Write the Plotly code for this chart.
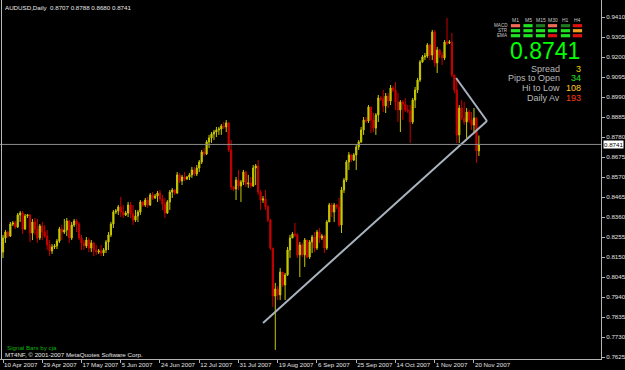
import plotly.graph_objects as go
import pandas as pd

symbol = "AUDUSD,Daily"

# Daily OHLC in pips (price * 10000), 10 Apr 2007 .. 22 Nov 2007 (Sun-Fri bars)
opens = [8176, 8250, 8281, 8260, 8323, 8329, 8308, 8371, 8381, 8297,
         8365, 8371, 8276, 8334, 8297, 8250, 8313, 8281, 8260, 8213,
         8182, 8203, 8208, 8234, 8297, 8281, 8292, 8339, 8250, 8318,
         8339, 8323, 8250, 8224, 8208, 8239, 8197, 8224, 8187, 8176,
         8182, 8171, 8187, 8229, 8266, 8323, 8386, 8392, 8413, 8386,
         8371, 8381, 8423, 8376, 8344, 8365, 8386, 8439, 8423, 8449,
         8423, 8476, 8460, 8470, 8486, 8455, 8428, 8381, 8439, 8491,
         8502, 8486, 8581, 8549, 8570, 8560, 8570, 8581, 8607, 8586,
         8617, 8649, 8701, 8691, 8754, 8775, 8796, 8806, 8817, 8822,
         8838, 8833, 8854, 8712, 8518, 8507, 8554, 8523, 8544, 8596,
         8533, 8539, 8523, 8617, 8628, 8491, 8449, 8455, 8413, 8344,
         8197, 7945, 7982, 7951, 8071, 8003, 8056, 8187, 8250, 8271,
         8266, 8161, 8213, 8161, 8239, 8150, 8229, 8255, 8197, 8281,
         8250, 8260, 8197, 8334, 8423, 8386, 8423, 8413, 8318, 8502,
         8554, 8649, 8686, 8659, 8686, 8728, 8754, 8817, 8869, 8864,
         8938, 8869, 8827, 8896, 8985, 8980, 8943, 8995, 8969, 9037,
         9027, 8964, 8922, 8964, 8953, 8922, 8917, 8859, 8974, 9027,
         9079, 9174, 9200, 9205, 9263, 9210, 9331, 9169, 9237, 9210,
         9195, 9279, 9273, 9279, 9106, 9027, 8791, 8932, 8880, 8859,
         8911, 8869, 8843, 8880, 8707]
highs = [8266, 8292, 8287, 8334, 8339, 8339, 8381, 8392, 8392, 8376,
         8376, 8376, 8350, 8355, 8350, 8323, 8334, 8318, 8292, 8239,
         8218, 8218, 8245, 8308, 8318, 8350, 8355, 8344, 8334, 8350,
         8350, 8334, 8266, 8239, 8255, 8250, 8239, 8229, 8213, 8192,
         8213, 8197, 8239, 8281, 8334, 8397, 8402, 8423, 8465, 8423,
         8392, 8439, 8439, 8423, 8397, 8397, 8449, 8444, 8460, 8465,
         8486, 8491, 8481, 8497, 8502, 8476, 8460, 8449, 8502, 8512,
         8507, 8596, 8591, 8581, 8596, 8575, 8591, 8623, 8623, 8633,
         8659, 8712, 8722, 8764, 8791, 8806, 8817, 8833, 8833, 8848,
         8859, 8869, 8859, 8764, 8523, 8570, 8607, 8554, 8607, 8602,
         8581, 8570, 8633, 8638, 8659, 8502, 8470, 8502, 8423, 8350,
         8197, 8014, 7998, 8092, 8071, 8066, 8203, 8266, 8281, 8329,
         8276, 8229, 8224, 8250, 8239, 8239, 8266, 8281, 8292, 8302,
         8271, 8266, 8344, 8434, 8434, 8434, 8428, 8460, 8518, 8565,
         8659, 8701, 8691, 8696, 8738, 8764, 8833, 8885, 8885, 8948,
         8938, 8906, 8906, 9001, 8995, 9027, 9011, 9011, 9053, 9048,
         9069, 9011, 8974, 8974, 8985, 8948, 8948, 8985, 9043, 9090,
         9184, 9210, 9221, 9273, 9268, 9342, 9342, 9253, 9242, 9226,
         9289, 9405, 9289, 9326, 9106, 9090, 8948, 8974, 8964, 8932,
         8922, 8911, 8932, 8885, 8788]
lows = [8145, 8224, 8250, 8255, 8313, 8297, 8302, 8334, 8271, 8292,
        8355, 8229, 8239, 8266, 8224, 8239, 8239, 8250, 8187, 8155,
        8166, 8192, 8192, 8224, 8239, 8271, 8260, 8224, 8239, 8308,
        8281, 8239, 8187, 8187, 8197, 8176, 8176, 8155, 8161, 8166,
        8155, 8155, 8171, 8187, 8255, 8302, 8376, 8371, 8360, 8355,
        8365, 8360, 8355, 8318, 8334, 8334, 8371, 8413, 8413, 8407,
        8418, 8449, 8455, 8439, 8444, 8397, 8355, 8376, 8397, 8460,
        8476, 8481, 8539, 8528, 8549, 8554, 8554, 8565, 8575, 8575,
        8596, 8638, 8680, 8686, 8722, 8749, 8764, 8780, 8791, 8791,
        8822, 8806, 8701, 8502, 8497, 8449, 8502, 8439, 8528, 8518,
        8512, 8512, 8518, 8528, 8476, 8397, 8434, 8397, 8334, 8187,
        7888, 7662, 7924, 7924, 7993, 7924, 8050, 8145, 8250, 8255,
        8145, 8045, 8150, 8098, 8145, 8140, 8171, 8176, 8187, 8224,
        8239, 8171, 8187, 8334, 8360, 8334, 8402, 8308, 8276, 8486,
        8544, 8607, 8649, 8654, 8607, 8712, 8749, 8791, 8854, 8854,
        8801, 8806, 8791, 8859, 8969, 8911, 8906, 8932, 8948, 9016,
        8922, 8859, 8806, 8869, 8911, 8906, 8749, 8848, 8932, 9011,
        9069, 9169, 9184, 9195, 9184, 9184, 9148, 9116, 9195, 9158,
        9184, 9263, 9268, 9095, 9011, 8749, 8749, 8869, 8843, 8775,
        8854, 8817, 8801, 8644, 8680]
closes = [8250, 8281, 8260, 8323, 8329, 8308, 8371, 8381, 8297, 8365,
          8371, 8276, 8334, 8297, 8250, 8313, 8281, 8260, 8213, 8182,
          8203, 8208, 8234, 8297, 8281, 8292, 8339, 8250, 8318, 8339,
          8323, 8250, 8224, 8208, 8239, 8197, 8224, 8187, 8176, 8182,
          8171, 8187, 8229, 8266, 8323, 8386, 8392, 8413, 8386, 8371,
          8381, 8423, 8376, 8344, 8365, 8386, 8439, 8423, 8449, 8423,
          8476, 8460, 8470, 8486, 8455, 8428, 8381, 8439, 8491, 8502,
          8486, 8581, 8549, 8570, 8560, 8570, 8581, 8607, 8586, 8617,
          8649, 8701, 8691, 8754, 8775, 8796, 8806, 8817, 8822, 8838,
          8833, 8854, 8712, 8518, 8507, 8554, 8523, 8544, 8596, 8533,
          8539, 8523, 8617, 8628, 8491, 8449, 8455, 8413, 8344, 8197,
          7945, 7982, 7951, 8071, 8003, 8056, 8187, 8250, 8271, 8266,
          8161, 8213, 8161, 8239, 8150, 8229, 8255, 8197, 8281, 8250,
          8260, 8197, 8334, 8423, 8386, 8423, 8413, 8318, 8502, 8554,
          8649, 8686, 8659, 8686, 8728, 8754, 8817, 8869, 8864, 8938,
          8869, 8827, 8896, 8985, 8980, 8943, 8995, 8969, 9037, 9027,
          8964, 8922, 8964, 8953, 8922, 8917, 8859, 8974, 9027, 9079,
          9174, 9200, 9205, 9263, 9210, 9331, 9169, 9237, 9210, 9195,
          9279, 9273, 9279, 9106, 9027, 8791, 8932, 8880, 8859, 8911,
          8869, 8843, 8880, 8707, 8741]

price_ticks = [0.7625, 0.7730, 0.7835, 0.7940, 0.8045, 0.8150, 0.8255, 0.8360, 0.8465,
               0.8570, 0.8675, 0.8780, 0.8885, 0.8990, 0.9095, 0.9200, 0.9305, 0.9410]
label_every = 16  # bars between date labels

# trendlines (bar index, price)
trend_up_x = [106.0, 197.3]
trend_up_y = [0.7804, 0.8864]
trend_dn_x = [184.7, 197.3]
trend_dn_y = [0.9090, 0.8864]

# signal panel
tf_labels = ["M1", "M5", "M15", "M30", "H1", "H4"]
sig_rows = ["MACD", "STR", "EMA"]
sig_colors = [["#f06a55", "#22e022", "#1f7a1f", "#f06a55", "#1f7a1f", "#e01010"],
              ["#22e022", "#22e022", "#22e022", "#22e022", "#22e022", "#f0a020"],
              ["#22e022", "#22e022", "#22e022", "#e01010", "#22e022", "#e01010"]]
stat_labels = ["Spread", "Pips to Open", "Hi to Low", "Daily Av"]
stat_values = ["3", "34", "108", "193"]
stat_colors = ["#f0d000", "#22e022", "#ffcc22", "#ff3a10"]

O = [v / 10000 for v in opens]
H = [v / 10000 for v in highs]
L = [v / 10000 for v in lows]
C = [v / 10000 for v in closes]
n = len(C)
dates = pd.bdate_range("2007-04-10", periods=n, freq="C", weekmask="Sun Mon Tue Wed Thu Fri")
idx = list(range(n))
tick_idx = idx[::label_every]
tick_txt = [f"{dates[i].day} {dates[i].strftime('%b %Y')}" for i in tick_idx]

W, HGT = 625, 370
PX_W = 601   # plot width in px
PX_H = 359   # plot height in px
def px(x):
    return x / PX_W
def py(y):
    return (PX_H - y) / PX_H

FONT = "Liberation Sans, Arial, sans-serif"
fig = go.Figure()
fig.add_trace(go.Candlestick(
    x=idx, open=O, high=H, low=L, close=C,
    increasing=dict(line=dict(color="#c8c800", width=1), fillcolor="#c8c800"),
    decreasing=dict(line=dict(color="#c80000", width=1), fillcolor="#c80000"),
    whiskerwidth=0, hoverinfo="skip", showlegend=False))
for tx, ty in [(trend_up_x, trend_up_y), (trend_dn_x, trend_dn_y)]:
    fig.add_trace(go.Scatter(x=tx, y=ty, mode="lines", line=dict(color="#a9b3bf", width=2),
                             hoverinfo="skip", showlegend=False))

last = C[-1]
fig.add_shape(type="line", xref="paper", x0=0, x1=1, yref="y", y0=last, y1=last,
              line=dict(color="#8c8c8c", width=1))
fig.add_shape(type="line", xref="paper", x0=px(1.5), x1=px(1.5), yref="paper", y0=0, y1=1,
              line=dict(color="#b8b8b8", width=1))

ann = []
def text(x, y, s, size, color, anchor="left", **kw):
    ann.append(dict(xref="paper", yref="paper", x=px(x), y=py(y), text=s, showarrow=False,
                    xanchor=anchor, yanchor="middle", font=dict(family=FONT, size=size, color=color), **kw))

text(3, 7, f"{symbol}  {O[-1]:.4f} {H[-1]:.4f} {L[-1]:.4f} {C[-1]:.4f}", 6.2, "#e8e8e8")
text(5, 347, "Signal Bars by cja", 6.2, "#10b010")
text(3, 354, "MT4NF, © 2001-2007 MetaQuotes Software Corp.", 6.2, "#e8e8e8")

col_x = [515.5, 528, 540.5, 552.5, 565.5, 577.5]
row_y = [25.7, 30.7, 35.7]
for j, lab in enumerate(tf_labels):
    text(col_x[j], 20, lab, 5, "#c8c8c8", anchor="center")
for r, lab in enumerate(sig_rows):
    text(510, row_y[r], lab, 4.6, "#c8c8c8", anchor="right")
    for j in range(6):
        fig.add_shape(type="rect", xref="paper", yref="paper",
                      x0=px(col_x[j] - 4.6), x1=px(col_x[j] + 4.6),
                      y0=py(row_y[r] + 1.6), y1=py(row_y[r] - 1.6),
                      line=dict(width=0), fillcolor=sig_colors[r][j])

text(545, 51, f"{last:.4f}", 23, "#00ff00", anchor="center")
stat_y = [68.5, 78.2, 87.9, 97.6]
for k in range(4):
    text(562, stat_y[k], stat_labels[k], 9, "#b8b8b8", anchor="right")
    text(583, stat_y[k], stat_values[k], 9, stat_colors[k], anchor="right")

ann.append(dict(xref="paper", yref="y", x=1, y=last, xanchor="left", yanchor="middle",
                xshift=2, text=f"{last:.4f}", showarrow=False, bgcolor="#ffffff",
                borderpad=0, font=dict(family=FONT, size=6.2, color="#000000")))

fig.update_layout(
    width=W, height=HGT, margin=dict(l=0, r=W - PX_W, t=0, b=HGT - PX_H),
    paper_bgcolor="#000000", plot_bgcolor="#000000",
    annotations=ann, showlegend=False,
    xaxis=dict(range=[-1.223, 243.78], showgrid=False, zeroline=False, rangeslider=dict(visible=False),
               tickvals=tick_idx, ticktext=tick_txt, ticks="outside", ticklen=3, tickcolor="#b4b4b4",
               ticklabelposition="outside right", tickangle=0, automargin=False,
               tickfont=dict(family=FONT, size=6.2, color="#e0e0e0"),
               showline=True, linecolor="#b4b4b4", linewidth=1),
    yaxis=dict(range=[0.76145, 0.94993], side="right", showgrid=False, zeroline=False,
               tickvals=price_ticks, ticktext=[f"{v:.4f}" for v in price_ticks],
               ticks="outside", ticklen=3, tickcolor="#b4b4b4", automargin=False,
               tickfont=dict(family=FONT, size=6.2, color="#e0e0e0"),
               showline=True, linecolor="#b4b4b4", linewidth=1),
)
fig.write_html("out.html")
